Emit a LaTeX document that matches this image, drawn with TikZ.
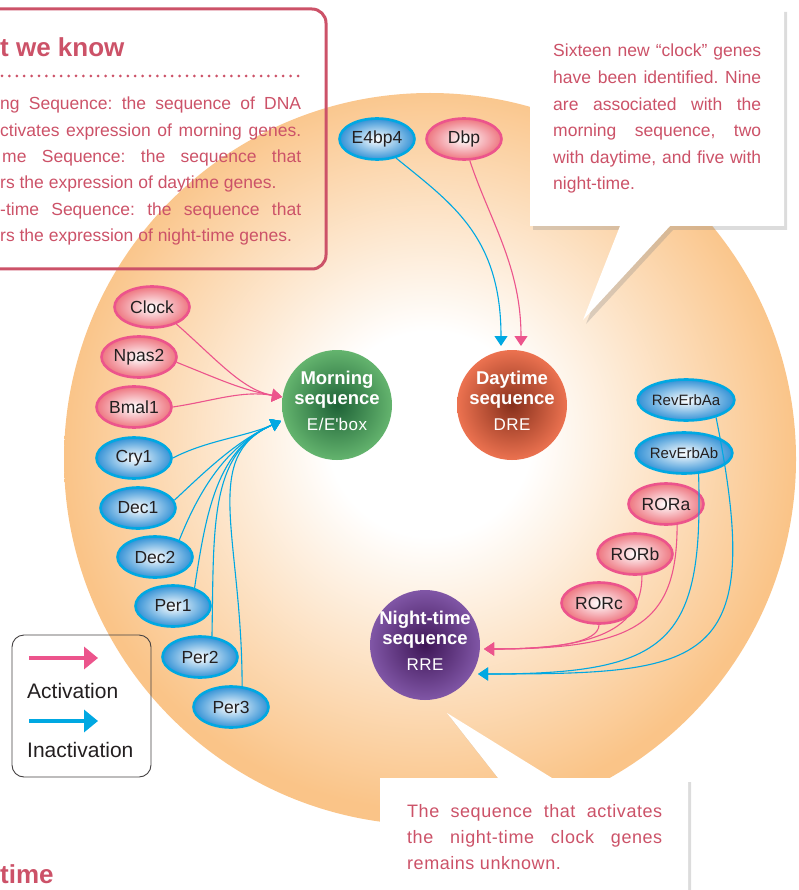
\documentclass[tikz,border=0pt]{standalone}
\usepackage{fontspec}
\setmainfont{Liberation Sans}
\newfontfamily\spacedfont[LetterSpace=3]{Liberation Sans}
\usetikzlibrary{arrows.meta,shapes.geometric,shadows}
\definecolor{actcol}{RGB}{236,84,140}
\definecolor{inhcol}{RGB}{0,168,226}
\definecolor{txtcol}{RGB}{204,82,104}
\definecolor{inkcol}{RGB}{35,31,32}
\definecolor{cellcol}{RGB}{250,196,136}
\definecolor{pinkfill}{RGB}{238,118,128}
\definecolor{bluefill}{RGB}{52,146,214}
\definecolor{morndark}{RGB}{30,98,55}
\definecolor{mornlight}{RGB}{100,180,110}
\definecolor{daydark}{RGB}{135,48,28}
\definecolor{daylight}{RGB}{236,114,80}
\definecolor{nightdark}{RGB}{62,22,86}
\definecolor{nightlight}{RGB}{128,86,166}
\pgfdeclareradialshading{cellglow}{\pgfpoint{0bp}{2bp}}{color(0bp)=(white);color(7bp)=(white);color(25bp)=(cellcol);color(50bp)=(cellcol)}
\newcommand{\pxfont}[2]{\fontsize{#1}{#2}\selectfont}
\newcommand{\jline}[2]{\makebox[#1][s]{#2}}

\begin{document}
\frenchspacing
\begin{tikzpicture}[x=1pt,y=-1pt,
  gene/.style={ellipse,minimum width=75pt,minimum height=41pt,inner sep=0pt,line width=2.6pt,text=inkcol,font=\pxfont{17.5}{20}},
  actgene/.style={gene,draw=actcol,inner color=white,outer color=pinkfill},
  inhgene/.style={gene,draw=inhcol,inner color=white,outer color=bluefill},
  seqnode/.style={circle,minimum size=110pt,inner sep=0pt,text=white,align=center,font=\pxfont{18.5}{20}},
  act/.style={actcol,line width=1.1pt,-{Triangle[length=10pt,width=13pt]}},
  inh/.style={inhcol,line width=1.1pt,-{Triangle[length=10pt,width=13pt]}},
  note/.style={text=txtcol,inner sep=0pt,font=\pxfont{17.5}{26.6}},
  bubble/.style={fill=white,drop shadow={opacity=.28,shadow xshift=3pt,shadow yshift=-4pt}}]
\useasboundingbox (0,0) rectangle (798,890);
% cell
\shade[shading=cellglow] (430,459) circle (366pt);
% what we know box
\draw[txtcol,line width=3pt,rounded corners=14pt] (-30,9) rectangle (326,269);
\node[anchor=base west,inner sep=0pt,text=txtcol,font=\pxfont{26}{30}\bfseries] (knowHead) at (0,57) {t we know};
\draw[txtcol,line width=3pt,line cap=round,dash pattern=on 0pt off 7.4pt] (2,76) -- (298,76);
\node[note,anchor=base west] (know1) at (0,110) {\jline{301pt}{ng Sequence: the sequence of DNA}};
\node[note,anchor=base west] (know2) at (0,137) {\jline{301pt}{ctivates expression of morning genes.}};
\node[note,anchor=base west] (know3) at (2,163) {\jline{299pt}{me Sequence: the sequence that}};
\node[note,anchor=base west] (know4) at (0,189) {rs the expression of daytime genes.};
\node[note,anchor=base west] (know5) at (0,216) {\jline{301pt}{-time Sequence: the sequence that}};
\node[note,anchor=base west] (know6) at (0,242) {rs the expression of night-time genes.};
\node[anchor=base west,inner sep=0pt,text=txtcol,font=\pxfont{26}{30}\bfseries] (timeHead) at (0,883) {time};
% callouts
\path[bubble] (530,8) -- (784,8) -- (784,226) -- (670,226) -- (583,320) -- (620,226) -- (530,226) -- cycle;
\node[note,anchor=north west,text width=208pt,align=justify] (newGenes) at (553,44)
  {Sixteen new “clock” genes\linebreak have been identified. Nine\linebreak are associated with the\linebreak morning sequence, two\linebreak with daytime, and five with\linebreak night-time.};
\path[bubble] (380,778) -- (498,778) -- (447,713) -- (552,778) -- (688,778) -- (688,900) -- (380,900) -- cycle;
\node[note,anchor=north west,text width=255pt,align=justify,font=\spacedfont\pxfont{18}{26}] (unknown) at (407,804)
  {The sequence that activates\linebreak the night-time clock genes\linebreak remains unknown.};
% legend
\draw[inkcol!85,line width=0.9pt,rounded corners=12pt] (12,635) rectangle (151,777);
\coordinate (lgActL) at (29,658); \coordinate (lgActR) at (98,658);
\coordinate (lgInhL) at (29,721); \coordinate (lgInhR) at (98,721);
\draw[actcol,line width=4pt,-{Triangle[length=14pt,width=22pt]}] (lgActL) -- (lgActR);
\draw[inhcol,line width=4pt,-{Triangle[length=14pt,width=22pt]}] (lgInhL) -- (lgInhR);
\node[anchor=base west,inner sep=0pt,text=inkcol,font=\pxfont{21}{24}] (lgAct) at (27,698) {Activation};
\node[anchor=base west,inner sep=0pt,text=inkcol,font=\pxfont{21}{24}] (lgInh) at (27,757) {Inactivation};
% sequences
\node[seqnode,inner color=morndark,outer color=mornlight] (morn) at (337,405) {};
\node[seqnode,inner color=daydark,outer color=daylight] (day) at (512,405) {};
\node[seqnode,inner color=nightdark,outer color=nightlight] (night) at (425,645) {};
\node[text=white,align=center,font=\pxfont{18.5}{20},yshift=4pt] (mornTxt) at (morn) {\textbf{Morning}\\\textbf{sequence}\\[6pt]{\spacedfont\pxfont{17}{20}E/E\textquotesingle box}};
\node[text=white,align=center,font=\pxfont{18.5}{20},yshift=4pt] (dayTxt) at (day) {\textbf{Daytime}\\\textbf{sequence}\\[6pt]{\spacedfont\pxfont{17}{20}DRE}};
\node[text=white,align=center,font=\pxfont{18.5}{20},yshift=4pt] (nightTxt) at (night) {\textbf{Night-time}\\\textbf{sequence}\\[6pt]{\spacedfont\pxfont{17}{20}RRE}};
\coordinate (mAct) at (282,397); \coordinate (mInh) at (281,421);
\coordinate (dInh) at (501,346); \coordinate (dAct) at (521,346);
\coordinate (nAct) at (484,649); \coordinate (nInh) at (478,674);
% genes
\node[actgene] (clock) at (152,307) {Clock};
\node[actgene] (npas) at (139,357) {Npas2};
\node[actgene] (bmal) at (134,407) {Bmal1};
\node[inhgene] (cry) at (134,458) {Cry1};
\node[inhgene] (dec1) at (138,508) {Dec1};
\node[inhgene] (dec2) at (155,557) {Dec2};
\node[inhgene] (per1) at (173,606) {Per1};
\node[inhgene] (per2) at (200,657) {Per2};
\node[inhgene] (per3) at (231,707) {Per3};
\node[inhgene] (e4bp) at (377,139) {E4bp4};
\node[actgene] (dbp) at (464,139) {Dbp};
\node[inhgene,font=\pxfont{15}{18}] (reva) at (686,400) {RevErbAa};
\node[inhgene,font=\pxfont{15}{18}] (revb) at (684,453) {RevErbAb};
\node[actgene] (rora) at (666,504) {RORa};
\node[actgene] (rorb) at (635,554) {RORb};
\node[actgene] (rorc) at (599,603) {RORc};
% morning links
\draw[act] (clock.-35) .. controls +(40,35) and +(-40,-7) .. (mAct);
\draw[act] (npas.-8) .. controls +(45,18) and +(-40,-7) .. (mAct);
\draw[act] (bmal.east) .. controls +(40,-6) and +(-40,-7) .. (mAct);
\draw[inh] (cry.east) .. controls +(35,-18) and +(-36,16) .. (mInh);
\draw[inh] (dec1.12) .. controls +(30,-28) and +(-45,20) .. (mInh);
\draw[inh] (dec2.35) .. controls +(20,-50) and +(-54,24) .. (mInh);
\draw[inh] (per1.40) .. controls +(12,-80) and +(-63,28) .. (mInh);
\draw[inh] (per2.60) .. controls +(2,-110) and +(-72,32) .. (mInh);
\draw[inh] (per3.62) .. controls +(0,-150) and +(-81,36) .. (mInh);
% daytime links
\draw[inh] (e4bp.-45) .. controls +(55,45) and +(0,-110) .. (dInh);
\draw[act] (dbp.-75) .. controls +(20,60) and +(0,-80) .. (dAct);
% night-time links
\draw[act] (rorc.south) .. controls +(0,18) and +(70,0) .. (nAct);
\draw[act] (rorb.-72) .. controls +(0,55) and +(110,0) .. (nAct);
\draw[act] (rora.-62) .. controls +(0,100) and +(150,0) .. (nAct);
\draw[inh] (revb.-55) .. controls +(5,170) and +(190,0) .. (nInh);
\draw[inh] (reva.-30) .. controls +(50,250) and +(230,0) .. (nInh);
\end{tikzpicture}
\end{document}
